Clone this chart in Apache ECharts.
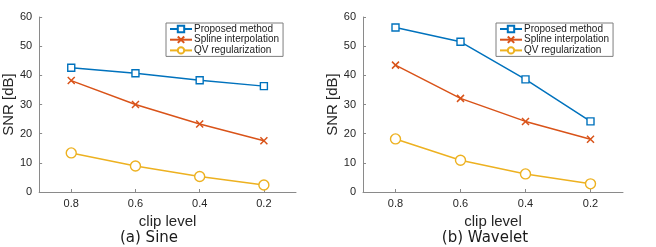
<!DOCTYPE html>
<html><head><meta charset="utf-8">
<script src="https://cdn.jsdelivr.net/npm/echarts@6/dist/echarts.min.js"></script>
<style>html,body{margin:0;padding:0;background:#fff}#c{width:656px;height:247px}</style>
</head><body><div id="c"></div>
<script>
const clipLevels = [0.8, 0.6, 0.4, 0.2];
const xTicks = [0.8, 0.6, 0.4, 0.2];
const yTicks = [0, 10, 20, 30, 40, 50, 60];
const seriesNames = ['Proposed method', 'Spline interpolation', 'QV regularization'];
const sineProposed = [42.6, 40.7, 38.3, 36.3];
const sineSpline = [38.2, 30.0, 23.3, 17.6];
const sineQV = [13.4, 8.9, 5.3, 2.4];
const waveProposed = [56.4, 51.5, 38.6, 24.2];
const waveSpline = [43.5, 32.1, 24.2, 18.1];
const waveQV = [18.2, 10.9, 6.2, 2.8];
const panelTitles = ['(a) Sine', '(b) Wavelet'];

const colors = ['#0072BD', '#D95319', '#EDB120'];
const tickFont = 'Liberation Sans, Arial, sans-serif';
const pair = vals => clipLevels.map((c, i) => [c, vals[i]]);

function mkSeries(vals, idx, axisIdx) {
  const base = {
    name: seriesNames[idx], type: 'line', xAxisIndex: axisIdx, yAxisIndex: axisIdx,
    data: pair(vals), lineStyle: {color: colors[idx], width: 1.5},
    symbolKeepAspect: true, animation: false, z: 3 - idx
  };
  if (idx === 0) {
    Object.assign(base, {symbol: 'rect', symbolSize: 7,
      itemStyle: {color: '#fff', borderColor: colors[0], borderWidth: 1.4}});
  } else if (idx === 1) {
    Object.assign(base, {symbol: 'path://M0,0L10,10M10,0L0,10', symbolSize: 7,
      itemStyle: {color: 'none', borderColor: colors[1], borderWidth: 1.5}});
  } else {
    Object.assign(base, {symbol: 'circle', symbolSize: 10,
      itemStyle: {color: '#fff', borderColor: colors[2], borderWidth: 1.4}});
  }
  return base;
}

const grids = [
  {left: 35, top: 17, width: 261, height: 175},
  {left: 363, top: 17, width: 260, height: 175}
];
const axisLineStyle = {color: '#8a8a8a', width: 1};
function mkX(i) {
  return {gridIndex: i, type: 'value', inverse: true, min: 0.1, max: 0.9,
    name: 'clip level', nameLocation: 'middle', nameGap: 18,
    nameTextStyle: {fontSize: 15, color: '#262626', fontFamily: tickFont, verticalAlign: 'top'},
    axisLine: {show: true, onZero: false, lineStyle: axisLineStyle},
    axisTick: {show: true, inside: true, length: 3, customValues: xTicks, lineStyle: axisLineStyle},
    axisLabel: {customValues: xTicks, fontSize: 11, color: '#262626', fontFamily: tickFont, margin: 6,
      formatter: v => v.toFixed(1)},
    splitLine: {show: false}};
}
function mkY(i) {
  return {gridIndex: i, type: 'value', min: 0, max: 60, interval: 10,
    name: 'SNR [dB]', nameLocation: 'middle', nameGap: 20, nameRotate: 90,
    nameTextStyle: {fontSize: 15, color: '#262626', fontFamily: tickFont},
    axisLine: {show: true, lineStyle: axisLineStyle},
    axisTick: {show: true, inside: true, length: 3, lineStyle: axisLineStyle},
    axisLabel: {fontSize: 11, color: '#262626', fontFamily: tickFont, margin: 7,
      customValues: yTicks},
    splitLine: {show: false}};
}
function mkLegend(left) {
  return {data: seriesNames, orient: 'vertical', left: left, top: 23, itemGap: 0,
    itemWidth: 22, itemHeight: 8, padding: [1, 4, 1, 3],
    backgroundColor: '#fff', borderColor: '#7f7f7f', borderWidth: 1, borderRadius: 0,
    textStyle: {fontSize: 10, color: '#1a1a1a', fontFamily: tickFont, padding: [0, 0, 0, -3]},
    selectedMode: false};
}

const chart = echarts.init(document.getElementById('c'), null, {renderer: 'canvas'});
chart.setOption({
  animation: false,
  backgroundColor: '#fff',
  grid: grids,
  xAxis: [mkX(0), mkX(1)],
  yAxis: [mkY(0), mkY(1)],
  legend: [mkLegend(166), mkLegend(496)],
  title: [
    {text: panelTitles[0], left: 149, top: 231, textAlign: 'center', padding: 0,
      textStyle: {fontSize: 15, fontWeight: 'normal', color: '#1a1a1a', fontFamily: 'DejaVu Sans, sans-serif'}},
    {text: panelTitles[1], left: 485, top: 231, textAlign: 'center', padding: 0,
      textStyle: {fontSize: 15, fontWeight: 'normal', color: '#1a1a1a', fontFamily: 'DejaVu Sans, sans-serif'}}
  ],
  series: [
    mkSeries(sineProposed, 0, 0), mkSeries(sineSpline, 1, 0), mkSeries(sineQV, 2, 0),
    mkSeries(waveProposed, 0, 1), mkSeries(waveSpline, 1, 1), mkSeries(waveQV, 2, 1)
  ]
});
</script></body></html>
